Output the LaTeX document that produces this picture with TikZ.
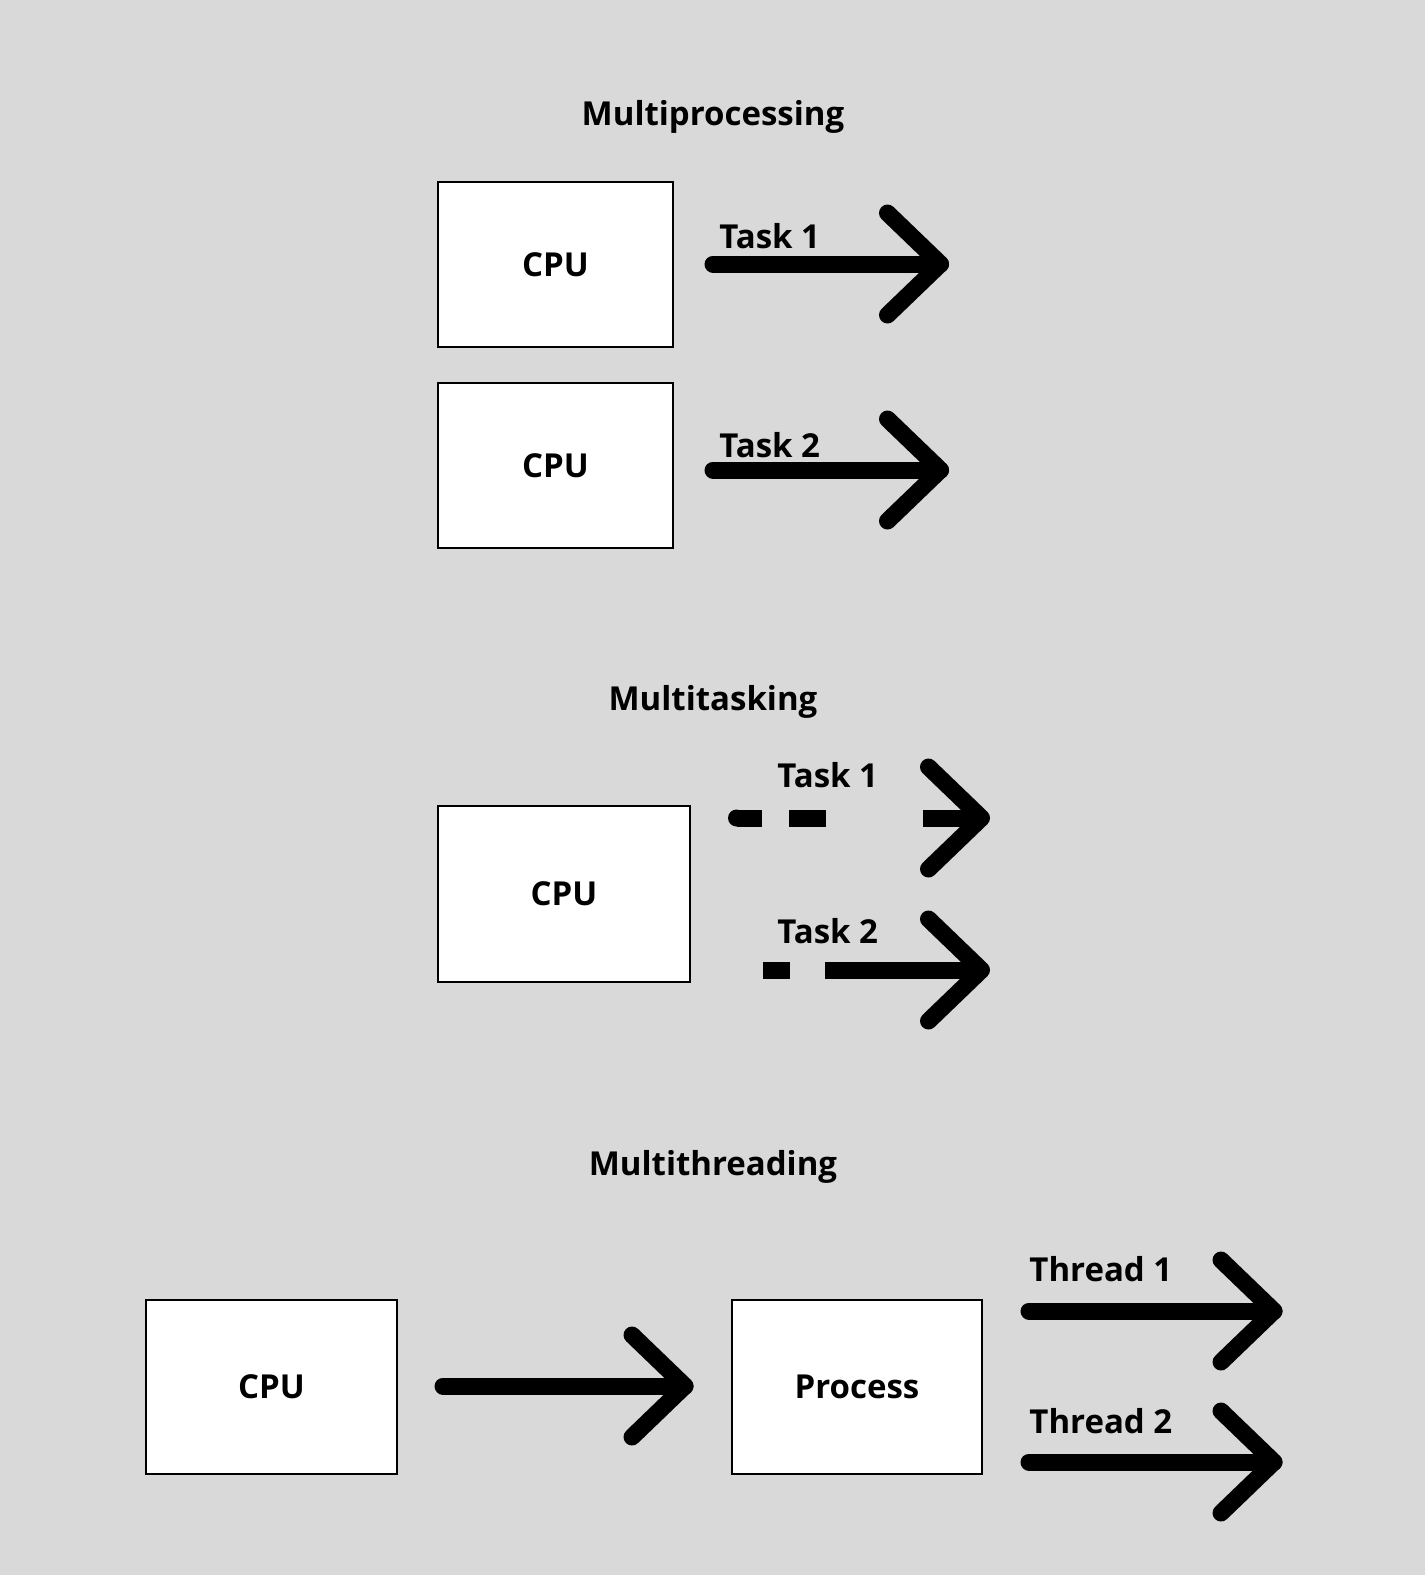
\documentclass[tikz,border=0pt]{standalone}
\usepackage{fontspec}
\setmainfont{Open Sans}
\usetikzlibrary{calc}
\definecolor{bgcol}{RGB}{217,217,217}
\begin{document}
\begin{tikzpicture}[x=0.5pt,y=-0.5pt,
  lbl/.style={font=\bfseries\fontsize{16.5}{19}\selectfont, text=black, inner sep=0pt},
  boxnode/.style={draw=black, line width=1pt, fill=white, inner sep=0pt,
     font=\bfseries\fontsize{16.5}{19}\selectfont},
  arw/.style={line width=8.5pt, line cap=round, line join=round, draw=black},
  dashpiece/.style={line width=8.5pt, line cap=butt, draw=black}]
\fill[bgcol] (0,0) rectangle (1425,1575);
\useasboundingbox (0,0) rectangle (1425,1575);
\newcommand\chevtip[1]{\draw[arw] ($(#1)+(-53,-51)$) -- (#1) -- ($(#1)+(-53,51)$);}

% ---------- Multiprocessing ----------
\node[lbl, anchor=base] (t1) at (713,125) {Multiprocessing};
\node[boxnode, minimum width=117.5pt, minimum height=82.5pt] (b1) at (555.5,264.5) {CPU};
\node[boxnode, minimum width=117.5pt, minimum height=82.5pt] (b2) at (555.5,465.5) {CPU};
\coordinate (a1s) at ($(b1.east)+(39,-0.5)$);
\coordinate (a1t) at (940.5,264);
\coordinate (a2s) at ($(b2.east)+(39,4.5)$);
\coordinate (a2t) at (940.5,470);
\draw[arw] (a1s) -- (a1t);
\chevtip{a1t}
\draw[arw] (a2s) -- (a2t);
\chevtip{a2t}
\node[lbl, anchor=base west] (l1) at (719,248) {Task 1};
\node[lbl, anchor=base west] (l2) at (719,457) {Task 2};

% ---------- Multitasking ----------
\node[lbl, anchor=base] (t2) at (713,710) {Multitasking};
\node[boxnode, minimum width=126pt, minimum height=88pt] (b3) at (564,894) {CPU};
\coordinate (d1t) at (981.5,818);
\coordinate (d2t) at (981.5,970);
\fill[black] (736.5,818) circle[radius=4.25pt];
\draw[dashpiece] (736.5,818) -- (762,818);
\draw[dashpiece] (789,818) -- (826,818);
\draw[dashpiece] (923,818) -- (d1t);
\chevtip{d1t}
\draw[dashpiece] (763,970) -- (790,970);
\draw[dashpiece] (825,970) -- (d2t);
\chevtip{d2t}
\node[lbl, anchor=base west] (l3) at (777,787) {Task 1};
\node[lbl, anchor=base west] (l4) at (777,943) {Task 2};

% ---------- Multithreading ----------
\node[lbl, anchor=base] (t3) at (713,1175) {Multithreading};
\node[boxnode, minimum width=125.5pt, minimum height=87pt] (cpu) at (271.5,1387) {CPU};
\node[boxnode, minimum width=125pt, minimum height=87pt] (proc) at (857,1387) {Process};
\coordinate (ms) at ($(cpu.east)+(45,-1)$);
\coordinate (mt) at ($(proc.west)+(-46,-1)$);
\draw[arw] (ms) -- (mt);
\chevtip{mt}
\coordinate (th1s) at ($(proc.east)+(46,-76)$);
\coordinate (th1t) at (1274,1311);
\coordinate (th2s) at ($(proc.east)+(46,75)$);
\coordinate (th2t) at (1274,1462);
\draw[arw] (th1s) -- (th1t);
\chevtip{th1t}
\draw[arw] (th2s) -- (th2t);
\chevtip{th2t}
\node[lbl, anchor=base west] (l5) at (1029,1281) {Thread 1};
\node[lbl, anchor=base west] (l6) at (1029,1433) {Thread 2};
\end{tikzpicture}
\end{document}
